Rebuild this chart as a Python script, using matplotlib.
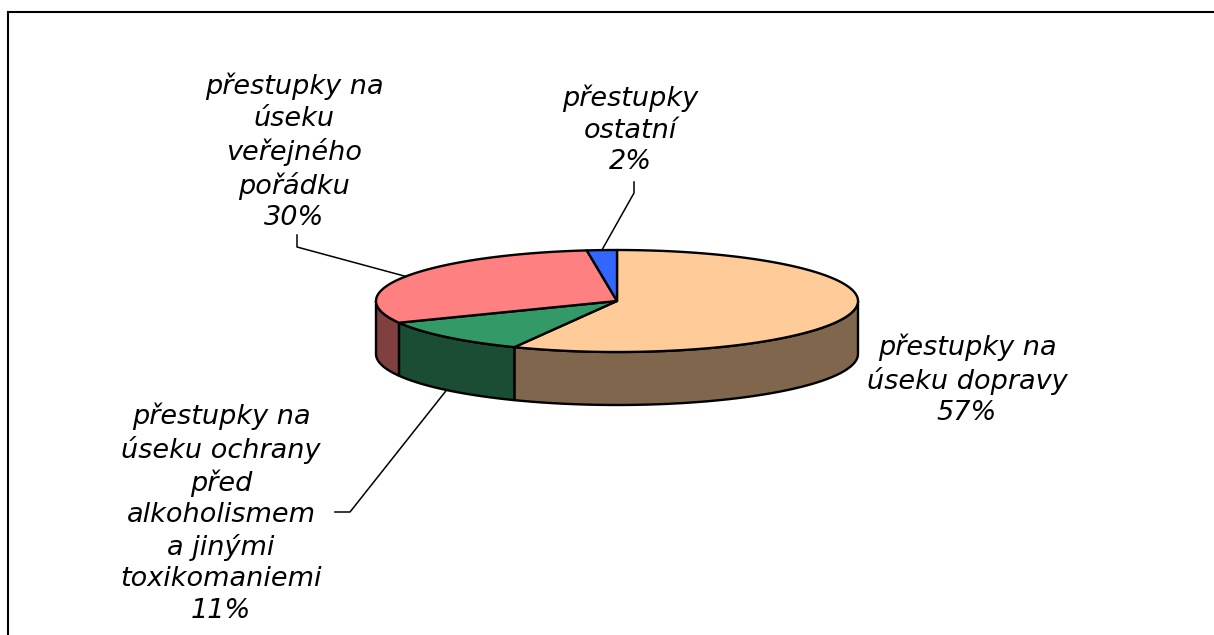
import numpy as np
import matplotlib.pyplot as plt
from matplotlib.patches import Polygon
from matplotlib.colors import to_rgb

# data
labels = ["přestupky na\núseku dopravy",
          "přestupky na\núseku ochrany\npřed\nalkoholismem\na jinými\ntoxikomaniemi",
          "přestupky na\núseku\nveřejného\npořádku",
          "přestupky\nostatní"]
shares = [57, 11, 30, 2]
colors = ["#FFCC99", "#339966", "#FF8080", "#3366FF"]

# pie geometry (pixels)
cx, cy, rx, ry, depth = 617, 301, 241, 51, 53

# label placement (pixels): center of text block
label_pos = [(967, 380), (221, 513), (294, 152), (630, 130)]
# leader start / bend points (None = no leader)
leaders = [None, [(335, 512), (350, 512)], [(297, 235), (297, 247)], [(634, 182), (634, 193)]]

fig = plt.figure(figsize=(12.14, 6.35), dpi=100)
ax = fig.add_axes([0, 0, 1, 1])
ax.set_xlim(0, 1214)
ax.set_ylim(635, 0)
ax.axis("off")

# outer frame
ax.plot([8, 8, 1214], [640, 12, 12], color="black", lw=1.5, solid_joinstyle="miter")


def ell(t, dz=0):
    t = np.radians(t)
    return cx + rx * np.cos(t), cy - ry * np.sin(t) + dz


# angles: start at top, go clockwise
total = sum(shares)
bounds = []
a = 90.0
for s in shares:
    b = a - 360.0 * s / total
    bounds.append((b, a))
    a = b

# side walls (front half only: angles 180..360)
for (lo, hi), c in zip(bounds, colors):
    side = tuple(0.5 * v for v in to_rgb(c))
    for shift in (0, 360, -360):
        s0, s1 = max(lo + shift, 180), min(hi + shift, 360)
        if s1 <= s0:
            continue
        t = np.linspace(s0, s1, 80)
        xt, yt = ell(t)
        xb, yb = ell(t[::-1], depth)
        pts = np.column_stack([np.r_[xt, xb], np.r_[yt, yb]])
        ax.add_patch(Polygon(pts, closed=True, fc=side, ec="black", lw=1.7, joinstyle="round"))

# top wedges
for (lo, hi), c in zip(bounds, colors):
    t = np.linspace(lo, hi, 200)
    xt, yt = ell(t)
    pts = np.column_stack([np.r_[cx, xt], np.r_[cy, yt]])
    ax.add_patch(Polygon(pts, closed=True, fc=c, ec="black", lw=1.7, joinstyle="round"))

# labels and leader lines
for lab, s, (lx, ly), ld, (lo, hi) in zip(labels, shares, label_pos, leaders, bounds):
    ax.text(lx, ly, f"{lab}\n{s}%", ha="center", va="center", multialignment="center",
            fontsize=19.5, fontstyle="italic", family="DejaVu Sans", linespacing=1.27)
    if ld is None:
        continue
    mid = (lo + hi) / 2
    px, py = ell(mid)
    if np.sin(np.radians(mid)) < 0:
        py += depth
    xs = [p[0] for p in ld] + [px]
    ys = [p[1] for p in ld] + [py]
    ax.plot(xs, ys, color="black", lw=1.1)

fig.savefig("out.png", dpi=100)
